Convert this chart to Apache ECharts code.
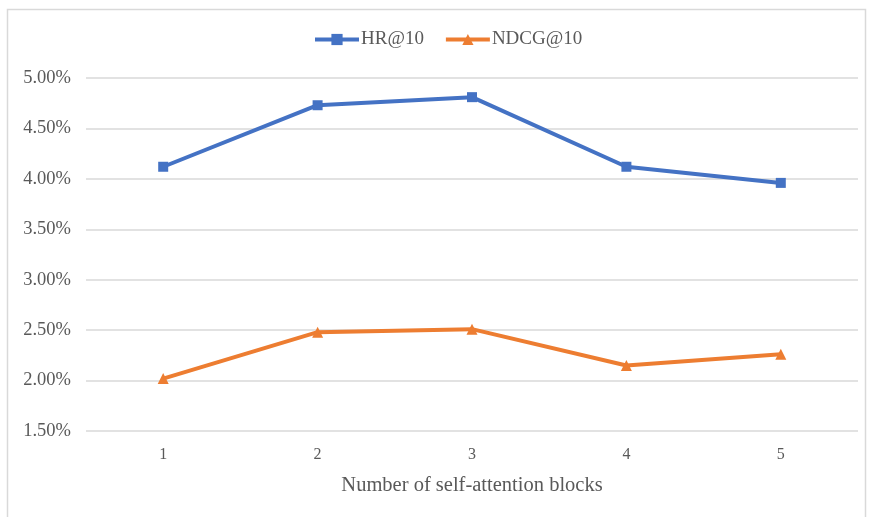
<!DOCTYPE html>
<html>
<head>
<meta charset="utf-8">
<script src="https://cdn.jsdelivr.net/npm/echarts@6/dist/echarts.min.js"></script>
<style>
  html, body { margin: 0; padding: 0; background: #ffffff; }
  #chart { width: 870px; height: 517px; }
</style>
</head>
<body>
<div id="chart"></div>
<script>
// Number of self-attention blocks on the x axis
const categories = ['1', '2', '3', '4', '5'];
// Metric values in percent
const hrValues = [4.12, 4.73, 4.81, 4.12, 3.96];
const ndcgValues = [2.02, 2.48, 2.51, 2.15, 2.26];
const seriesNames = ['HR@10', 'NDCG@10'];
const xAxisTitle = 'Number of self-attention blocks';

const serif = '"Liberation Serif", "Times New Roman", serif';
const textGray = '#595959';

const chart = echarts.init(document.getElementById('chart'), null, { renderer: 'canvas' });
chart.setOption({
  backgroundColor: '#ffffff',
  animation: false,
  graphic: [{
    type: 'rect',
    shape: { x: 7.5, y: 9.5, width: 858, height: 530 },
    style: { fill: 'none', stroke: '#d9d9d9', lineWidth: 1.5 },
    silent: true
  }],
  legend: {
    top: 25,
    left: 308,
    itemWidth: 44,
    itemHeight: 14,
    itemGap: 20,
    lineStyle: { width: 4 },
    textStyle: { fontFamily: serif, fontSize: 19, color: textGray, padding: [0, 0, 0, -3] },
    data: seriesNames
  },
  grid: { left: 86, right: 12, top: 78, bottom: 86, containLabel: false },
  xAxis: {
    type: 'category',
    data: categories,
    boundaryGap: true,
    name: xAxisTitle,
    nameLocation: 'middle',
    nameGap: 44,
    nameTextStyle: { fontFamily: serif, fontSize: 20.5, color: textGray },
    axisLine: { show: false },
    axisTick: { show: false },
    axisLabel: { fontFamily: serif, fontSize: 16, color: textGray, margin: 16 }
  },
  yAxis: {
    type: 'value',
    min: 1.5,
    max: 5,
    interval: 0.5,
    axisLine: { show: false },
    axisTick: { show: false },
    axisLabel: {
      fontFamily: serif, fontSize: 18.5, color: textGray, margin: 15,
      formatter: v => v.toFixed(2) + '%'
    },
    splitLine: { lineStyle: { color: '#d9d9d9', width: 1.5 } }
  },
  series: [
    {
      name: seriesNames[0],
      type: 'line',
      data: hrValues,
      symbol: 'rect',
      symbolSize: 10,
      lineStyle: { color: '#4472c4', width: 4 },
      itemStyle: { color: '#4472c4' }
    },
    {
      name: seriesNames[1],
      type: 'line',
      data: ndcgValues,
      symbol: 'triangle',
      symbolSize: 11,
      lineStyle: { color: '#ed7d31', width: 4 },
      itemStyle: { color: '#ed7d31' }
    }
  ]
});
</script>
</body>
</html>
